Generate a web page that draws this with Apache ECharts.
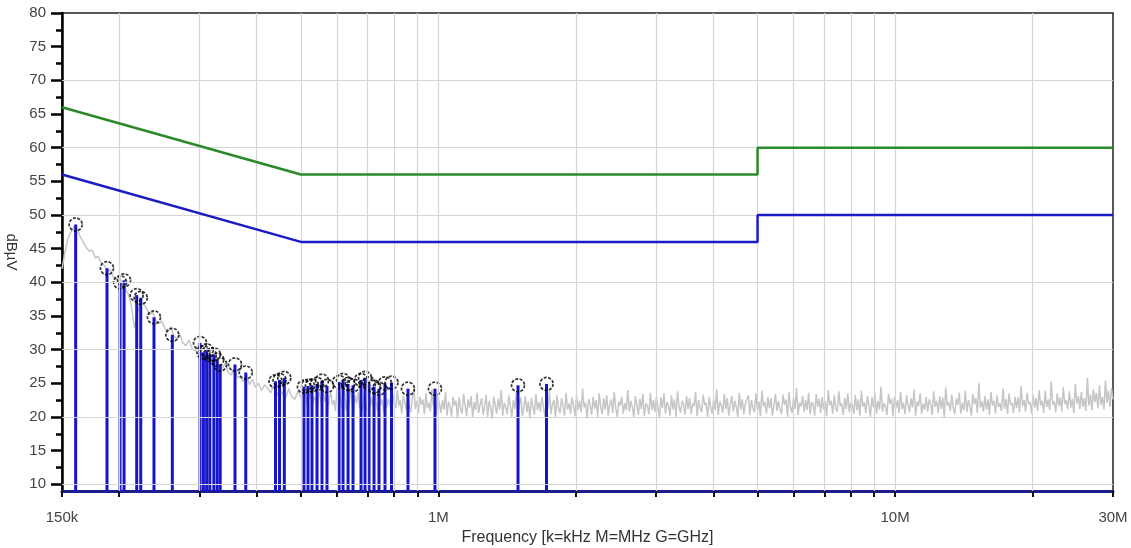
<!DOCTYPE html>
<html>
<head>
<meta charset="utf-8">
<title>Conducted emission scan</title>
<script src="https://cdn.jsdelivr.net/npm/echarts@6/dist/echarts.min.js"></script>
<style>
  html, body { margin: 0; padding: 0; background: #fff; }
  #chart { width: 1131px; height: 548px; }
</style>
</head>
<body>
<div id="chart"></div>
<script>
// frequencies in MHz, levels in dBuV
var yMin = 9;
var yMax = 80;

var qpLimitFreq = [0.15, 0.5, 5, 5, 30];
var qpLimitLevel = [66, 56, 56, 60, 60];
var avLimitFreq = [0.15, 0.5, 5, 5, 30];
var avLimitLevel = [56, 46, 46, 50, 50];

var peakFreq = [
  0.1607, 0.1882, 0.2010, 0.2051, 0.2186, 0.2231, 0.2385, 0.2616,
  0.3008, 0.3060, 0.3110, 0.3160, 0.3225, 0.3280, 0.3330, 0.3588, 0.3788,
  0.4401, 0.4491, 0.4601, 0.5080, 0.5184, 0.5289, 0.5425, 0.5563, 0.5705,
  0.6063, 0.6186, 0.6344, 0.6505, 0.6773, 0.6911, 0.7051, 0.7232, 0.7415,
  0.7643, 0.7897, 0.8582, 0.9833, 1.4944, 1.7254
];
var peakLevel = [
  48.6, 42.1, 40.0, 40.3, 38.1, 37.7, 34.8, 32.2,
  31.0, 29.6, 29.9, 29.2, 29.3, 28.5, 27.8, 27.8, 26.6,
  25.3, 25.5, 25.8, 24.5, 24.6, 24.7, 24.9, 25.4, 24.6,
  25.2, 25.5, 24.9, 24.7, 25.5, 25.8, 25.0, 24.5, 24.2,
  25.0, 25.1, 24.2, 24.2, 24.7, 24.9
];

// preview sweep in two parts, points spaced evenly in log frequency within each part
var lowSweepStart = 0.15;
var lowSweepStop = 0.5;
var lowSweepLevels = [
  42.0, 44.5, 46.5, 47.5, 48.3, 48.0, 46.8, 46.0, 45.2, 44.6,
  44.8, 43.6, 43.9, 42.8, 42.5, 41.6, 41.9, 40.8, 40.4, 40.9,
  39.6, 39.0, 38.2, 36.4, 33.2, 35.5, 37.2, 36.8, 36.0, 35.2,
  35.6, 34.4, 33.8, 34.2, 33.2, 32.6, 33.4, 32.0, 31.6, 32.2,
  31.0, 30.6, 31.4, 30.2, 29.8, 30.6, 29.4, 28.9, 29.8, 28.6,
  28.0, 28.9, 27.5, 27.2, 28.0, 26.6, 26.2, 27.4, 25.8, 26.0,
  25.2, 26.3, 24.8, 25.6, 24.4, 25.0, 23.9, 24.8, 24.2, 23.6,
  24.6, 23.2, 24.0, 23.4, 22.8, 24.2, 23.0, 22.6, 23.8, 22.9
];
var highSweepStart = 0.5;
var highSweepStop = 30;
var highSweepLevels = [
  22.9, 23.8, 22.1, 24.2, 21.6, 23.3, 22.7, 24.5, 21.9, 23.0, 22.4, 21.2, 23.7, 22.8, 21.5, 24.0, 22.2, 23.4, 21.1, 22.9,
  23.6, 21.8, 22.5, 20.9, 24.3, 22.0, 23.1, 21.4, 22.8, 23.9, 21.0, 22.6, 21.7, 24.1, 22.3, 20.8, 23.2, 22.0, 23.7, 21.3,
  22.4, 21.0, 23.5, 22.2, 20.7, 23.8, 21.6, 22.9, 21.2, 24.4, 22.1, 20.9, 23.3, 21.8, 22.6, 20.6, 23.9, 21.4, 22.7, 21.9,
  20.8, 23.4, 22.0, 21.3, 24.0, 21.7, 22.5, 20.5, 23.1, 22.3, 21.0, 23.6, 21.5, 20.7, 22.8, 24.2, 21.2, 22.4, 20.6, 23.0,
  21.8, 22.6, 20.4, 23.5, 21.3, 22.1, 20.8, 24.1, 21.6, 22.7, 20.3, 23.2, 21.9, 20.6, 22.5, 21.1, 23.7, 20.2, 22.3, 21.5,
  20.0, 23.0, 21.7, 22.4, 19.8, 22.9, 21.2, 20.5, 23.4, 21.8, 20.1, 22.6, 21.4, 23.1, 19.9, 22.2, 21.0, 23.6, 20.6, 21.9,
  22.8, 20.3, 21.6, 23.3, 20.0, 22.4, 21.3, 19.7, 23.0, 21.8, 20.5, 22.7, 21.1, 24.0, 20.2, 22.1, 21.5, 20.4, 23.2, 21.7,
  19.9, 22.5, 21.2, 23.5, 20.6, 21.8, 22.9, 20.1, 21.4, 23.1, 20.7, 22.3, 19.8, 22.8, 21.6, 20.3, 23.4, 21.0, 22.2, 20.8,
  23.0, 21.5, 20.0, 22.6, 21.2, 23.8, 20.4, 21.9, 22.5, 19.9, 23.2, 21.3, 20.6, 22.8, 21.7, 20.2, 23.6, 21.1, 22.0, 20.5,
  22.9, 21.6, 20.1, 23.3, 21.0, 22.4, 20.7, 24.2, 21.4, 22.1, 19.8, 22.7, 21.8, 20.3, 23.0, 21.2, 22.5, 20.0, 23.5, 21.5,
  20.4, 22.8, 21.1, 23.2, 20.2, 21.9, 22.6, 20.6, 23.7, 21.3, 20.0, 22.3, 21.7, 23.0, 20.5, 22.1, 21.0, 24.0, 20.8, 22.4,
  21.5, 19.9, 23.1, 21.8, 20.3, 22.7, 21.2, 23.4, 20.1, 22.0, 21.6, 20.4, 23.6, 21.0, 22.5, 20.7, 23.0, 21.4, 19.8, 22.9,
  21.3, 23.5, 20.5, 22.2, 21.7, 20.2, 23.2, 21.1, 22.6, 20.0, 23.8, 21.5, 20.6, 22.4, 21.9, 20.3, 23.1, 21.2, 22.8, 20.4,
  22.0, 21.6, 23.7, 20.1, 22.5, 21.3, 20.7, 23.3, 21.8, 22.1, 19.9, 23.0, 21.4, 20.5, 22.7, 21.0, 24.1, 20.3, 22.3, 21.7,
  20.6, 23.4, 21.2, 22.8, 20.2, 21.9, 23.1, 20.8, 22.4, 21.5, 20.0, 23.6, 21.1, 22.6, 20.4, 22.0, 21.8, 23.2, 20.3, 22.5,
  21.4, 20.7, 23.5, 21.0, 22.3, 20.1, 23.9, 21.6, 22.2, 20.5, 23.0, 21.3, 22.8, 20.2, 21.7, 23.4, 20.9, 22.4, 21.1, 20.4,
  23.3, 21.8, 22.6, 20.0, 23.7, 21.4, 20.6, 22.9, 21.2, 24.3, 20.3, 22.1, 21.6, 23.1, 20.7, 22.5, 21.0, 23.6, 20.4, 22.2,
  21.9, 20.2, 23.4, 21.5, 22.7, 20.6, 23.0, 21.1, 22.3, 20.1, 24.0, 21.7, 22.4, 20.5, 23.2, 21.3, 20.8, 23.8, 21.6, 22.0,
  20.3, 22.8, 21.2, 23.5, 20.7, 22.1, 21.8, 20.4, 23.3, 21.0, 22.6, 20.2, 23.9, 21.5, 22.2, 20.6, 23.1, 21.7, 20.0, 22.9,
  21.4, 23.6, 20.5, 22.4, 21.1, 24.5, 20.8, 22.0, 21.6, 20.3, 23.4, 21.9, 22.7, 20.1, 23.0, 21.3, 22.5, 20.6, 23.7, 21.2,
  22.1, 20.4, 23.2, 21.8, 20.7, 22.8, 21.4, 24.1, 20.2, 22.3, 21.6, 23.5, 20.5, 22.0, 21.1, 23.0, 20.8, 22.6, 21.9, 20.3,
  23.8, 21.5, 22.4, 20.6, 23.1, 21.2, 22.9, 20.0, 24.4, 21.7, 22.2, 20.9, 23.3, 21.3, 20.4, 22.7, 21.8, 23.6, 20.5, 22.1,
  21.0, 23.9, 20.7, 22.5, 21.6, 20.2, 23.4, 21.9, 22.8, 20.6, 25.0, 21.4, 22.3, 20.8, 23.1, 21.1, 22.6, 20.3, 23.7, 21.7,
  22.4, 20.5, 23.2, 21.5, 22.0, 20.9, 24.2, 21.2, 22.7, 20.4, 23.5, 21.8, 22.1, 20.6, 23.0, 21.3, 22.9, 20.7, 24.6, 21.6,
  22.5, 20.8, 23.6, 21.9, 22.2, 20.5, 23.3, 21.4, 22.8, 20.9, 24.0, 21.7, 22.4, 20.6, 23.9, 21.5, 22.6, 21.0, 25.3, 21.8,
  22.3, 20.7, 23.5, 21.6, 22.9, 20.8, 24.4, 21.9, 22.5, 21.1, 23.8, 21.4, 22.7, 20.6, 24.9, 22.0, 23.1, 21.2, 23.7, 21.5,
  22.8, 20.9, 25.8, 21.7, 23.3, 21.0, 24.1, 22.2, 23.6, 21.3, 24.7, 21.8, 23.0, 21.1, 25.4, 22.1, 23.9, 21.5, 24.3, 22.6
];

var yLabelValues = [10, 15, 20, 25, 30, 35, 40, 45, 50, 55, 60, 65, 70, 75, 80];
var yMinorValues = [12.5, 17.5, 22.5, 27.5, 32.5, 37.5, 42.5, 47.5, 52.5, 57.5, 62.5, 67.5, 72.5, 77.5];
var yGridValues = [10, 20, 30, 40, 50, 60, 70];
var xTickValues = [0.15, 0.2, 0.3, 0.4, 0.5, 0.6, 0.7, 0.8, 0.9, 1, 2, 3, 4, 5, 6, 7, 8, 9, 10, 20, 30];
var xLabelValues = [0.15, 1, 10, 30];
var xGridValues = [0.2, 0.3, 0.4, 0.5, 0.6, 0.7, 0.8, 0.9, 1, 2, 3, 4, 5, 6, 7, 8, 9, 10, 20];

function zip(xs, ys) {
  return xs.map(function (x, i) { return [x, ys[i]]; });
}

function sweepPoints(start, stop, levels) {
  return levels.map(function (v, i) {
    var t = i / (levels.length - 1);
    return [start * Math.pow(stop / start, t), v];
  });
}

var traceData = sweepPoints(lowSweepStart, lowSweepStop, lowSweepLevels)
  .concat(sweepPoints(highSweepStart, highSweepStop, highSweepLevels).slice(1));

var gridLines = [];
yGridValues.forEach(function (v) { gridLines.push({ yAxis: v }); });
xGridValues.forEach(function (v) { gridLines.push({ xAxis: v }); });

var font = "'Liberation Sans', Arial, sans-serif";

var chart = echarts.init(document.getElementById("chart"));
chart.setOption({
  animation: false,
  backgroundColor: "#fff",
  grid: {
    left: 62,
    right: 18,
    top: 13,
    bottom: 57,
    outerBoundsMode: "none",
    show: true,
    borderColor: "#222",
    borderWidth: 1.5
  },
  xAxis: {
    type: "log",
    logBase: 10,
    min: 0.15,
    max: 30,
    name: "Frequency [k=kHz M=MHz G=GHz]",
    nameLocation: "middle",
    nameGap: 38,
    nameTextStyle: { fontFamily: font, fontSize: 16, color: "#333" },
    axisLine: { show: true, onZero: false, lineStyle: { color: "#1c1c8c", width: 3 } },
    axisTick: {
      show: true,
      customValues: xTickValues,
      length: 6,
      lineStyle: { color: "#111", width: 2 }
    },
    axisLabel: {
      customValues: xLabelValues,
      margin: 19,
      fontFamily: font,
      fontSize: 15,
      color: "#444",
      formatter: function (v) {
        if (v < 1) {
          return Math.round(v * 1000) + "k";
        }
        return Math.round(v) + "M";
      }
    },
    splitLine: { show: false },
    minorTick: { show: false }
  },
  yAxis: [
    {
      type: "value",
      position: "left",
      min: yMin,
      max: yMax,
      name: "dBµV",
      nameLocation: "middle",
      nameRotate: -90,
      nameGap: 38,
      nameTextStyle: { fontFamily: font, fontSize: 15, color: "#333" },
      axisLine: { show: true, lineStyle: { color: "#000", width: 2.5 } },
      axisTick: {
        show: true,
        customValues: yLabelValues,
        length: 11,
        lineStyle: { color: "#000", width: 2.5 }
      },
      axisLabel: {
        customValues: yLabelValues,
        margin: 16,
        fontFamily: font,
        fontSize: 15,
        color: "#444"
      },
      splitLine: { show: false }
    },
    {
      type: "value",
      position: "left",
      min: yMin,
      max: yMax,
      axisLine: { show: false },
      axisTick: {
        show: true,
        customValues: yMinorValues,
        length: 6,
        lineStyle: { color: "#000", width: 2.5 }
      },
      axisLabel: { show: false },
      splitLine: { show: false }
    }
  ],
  series: [
    {
      name: "Preview",
      type: "line",
      data: traceData,
      showSymbol: false,
      symbol: "none",
      lineStyle: { color: "#c6c6c6", width: 1.5 },
      z: 1,
      markLine: {
        silent: true,
        symbol: "none",
        label: { show: false },
        lineStyle: { color: "#d6d6d6", width: 1.2, type: "solid" },
        data: gridLines
      }
    },
    {
      name: "Peaks",
      type: "custom",
      data: zip(peakFreq, peakLevel),
      z: 3,
      renderItem: function (params, api) {
        var top = api.coord([api.value(0), api.value(1)]);
        var base = api.coord([api.value(0), yMin]);
        return {
          type: "line",
          shape: { x1: top[0], y1: top[1], x2: base[0], y2: base[1] },
          style: { stroke: "#1616c8", lineWidth: 3 }
        };
      }
    },
    {
      name: "Peak markers",
      type: "scatter",
      data: zip(peakFreq, peakLevel),
      symbol: "circle",
      symbolSize: 13,
      z: 4,
      itemStyle: {
        color: "rgba(255,255,255,0)",
        borderColor: "#000",
        borderWidth: 1.7,
        borderType: [3, 1.5]
      }
    },
    {
      name: "QP limit",
      type: "line",
      data: zip(qpLimitFreq, qpLimitLevel),
      symbol: "none",
      lineStyle: { color: "#2a8a2a", width: 2.5 },
      z: 5
    },
    {
      name: "AV limit",
      type: "line",
      data: zip(avLimitFreq, avLimitLevel),
      symbol: "none",
      lineStyle: { color: "#1c1cc4", width: 2.5 },
      z: 5
    }
  ]
});
</script>
</body>
</html>
